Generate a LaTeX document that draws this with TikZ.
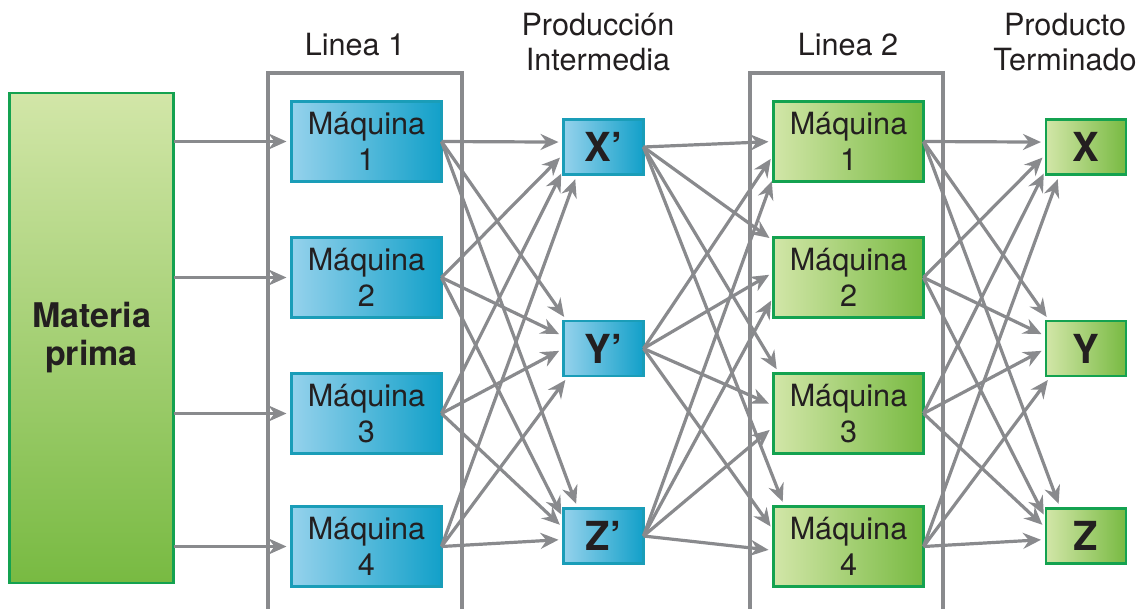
\documentclass[tikz,border=0pt]{standalone}
\usepackage{fontspec}
\setmainfont{TeX Gyre Heros}
\usetikzlibrary{arrows.meta}
\definecolor{gris}{HTML}{898A8D}
\definecolor{texto}{HTML}{231F20}
\definecolor{azulclaro}{HTML}{95D2EC}
\definecolor{azuloscuro}{HTML}{12A0C9}
\definecolor{bordeazul}{HTML}{1A9DB8}
\definecolor{verdeclaro}{HTML}{D2E6A8}
\definecolor{verdeoscuro}{HTML}{78BA42}
\definecolor{bordeverde}{HTML}{14A250}
\tikzset{%
	caja/.style={inner sep=0pt,outer sep=0pt,shape=rectangle,draw,line width=1.4pt,text=texto,align=center},
	maqazul/.style={caja,draw=bordeazul,left color=azulclaro,right color=azuloscuro,minimum width=75pt,minimum height=40pt,font=\fontsize{15.3}{18}\selectfont},
	maqverde/.style={caja,draw=bordeverde,left color=verdeclaro,right color=verdeoscuro,minimum width=75pt,minimum height=40pt,font=\fontsize{15.3}{18}\selectfont},
	interm/.style={caja,draw=bordeazul,left color=azulclaro,right color=azuloscuro,minimum width=40pt,minimum height=27.5pt,font=\fontsize{20}{24}\selectfont\bfseries},
	producto/.style={caja,draw=bordeverde,left color=verdeclaro,right color=verdeoscuro,minimum width=40pt,minimum height=27.5pt,font=\fontsize{20}{24}\selectfont\bfseries},
	flujo/.style={draw=gris,line width=1.6pt,-{Stealth[length=9pt,width=8pt,inset=3pt]},shorten >=2.5pt},
	marco/.style={draw=gris,line width=1.6pt},
	titulo/.style={align=center,text=texto,font=\fontsize{15.3}{17.5}\selectfont},
}

\begin{document}
\begin{tikzpicture}[x=0.5pt,y=-0.5pt]
	\useasboundingbox (0,0) rectangle (1145,609);
	
	%marcos de las lineas
	\draw[marco] (268,609) |- (462,73) -- (462,609);
	\draw[marco] (750,609) |- (943,73) -- (943,609);
	
	%titulos
	\node[titulo] (tl1) at (355,45) {Linea 1};
	\node[titulo] (tl2) at (848,45) {Linea 2};
	\node[titulo] (tint) at (598,42) {Producción\\Intermedia};
	\node[titulo] (tfin) at (1065,42) {Producto\\Terminado};
	
	%materia prima
	\node[caja,draw=bordeverde,top color=verdeclaro,bottom color=verdeoscuro,minimum width=82pt,minimum height=245pt,font=\fontsize{17}{19}\selectfont\bfseries] (mp) at (91.5,338) {Materia\\prima};
	
	%maquinas
	\foreach \i/\y in {1/141.5, 2/277.5, 3/413.5, 4/546.5}{
		\node[maqazul] (la\i) at (366.5,\y) {Máquina\\\i};
		\node[maqverde] (lb\i) at (848.5,\y) {Máquina\\\i};
	}
	
	%produccion intermedia y producto terminado
	\foreach \t/\l/\y in {x/X/147, y/Y/348.5, z/Z/536}{
		\node[interm] (i\t) at (603.5,\y) {\l’};
		\node[producto] (f\t) at (1086,\y) {\l};
	}
	
	%flechas
	\foreach \i in {1,...,4}
		\draw[flujo] (mp.east |- la\i.west) -- (la\i.west);
	\foreach \s/\t/\a in {1/x/173, 2/x/190, 3/x/209, 4/x/226,
	                      1/y/143, 2/y/163, 3/y/180, 4/y/218,
	                      1/z/133, 2/z/157, 3/z/169, 4/z/185}{
		\draw[flujo] (la\s.east) -- (i\t.\a);
		\draw[flujo] (lb\s.east) -- (f\t.\a);
	}
	\foreach \t/\s/\a in {x/1/180, y/1/190, z/1/205,
	                      x/2/154, y/2/176, z/2/194,
	                      x/3/150, y/3/174, z/3/190,
	                      x/4/148, y/4/168, z/4/183}
		\draw[flujo] (i\t.east) -- (lb\s.\a);
\end{tikzpicture}
\end{document}
